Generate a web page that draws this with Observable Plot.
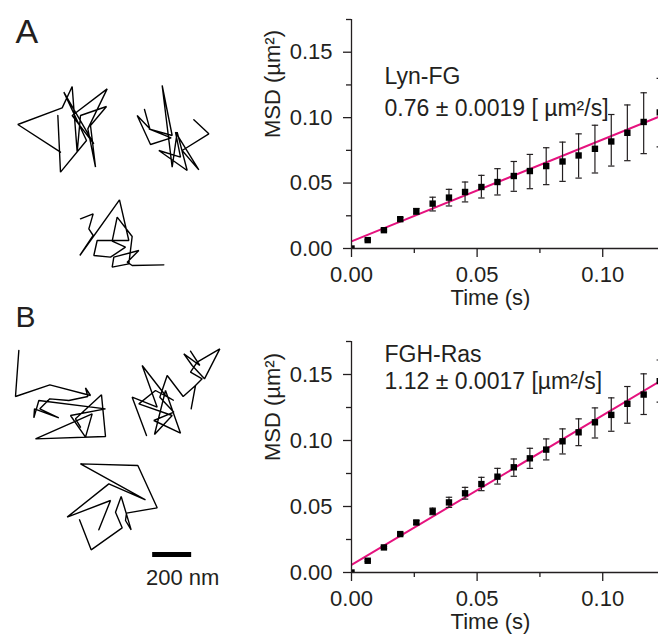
<!DOCTYPE html>
<html><head><meta charset="utf-8">
<script src="https://cdn.jsdelivr.net/npm/d3@7"></script>
<script src="https://cdn.jsdelivr.net/npm/@observablehq/plot@0.6"></script>
<style>
body{margin:0;background:#fff;}
#fig{position:relative;width:658px;height:635px;overflow:hidden;background:#fff;}
#fig > svg{position:absolute;display:block;}
</style></head><body><div id="fig"></div>
<script>
// ---------- MSD data ----------
const timeS = [0, 0.00646, 0.0129, 0.0194, 0.0258, 0.0323, 0.0388, 0.0452, 0.0517, 0.0581, 0.0646, 0.0710, 0.0775, 0.0840, 0.0904, 0.0969, 0.1034, 0.1098, 0.1163, 0.1227];
const msdLyn   = [0, 0.0064, 0.014, 0.0224, 0.0284, 0.0343, 0.0389, 0.0432, 0.047, 0.0508, 0.0554, 0.0592, 0.063, 0.0665, 0.0711, 0.0762, 0.0818, 0.0884, 0.0967, 0.104];
const msdLynLo = [0, 0.0058, 0.0132, 0.0212, 0.0262, 0.0287, 0.0325, 0.0356, 0.0386, 0.0409, 0.0437, 0.0457, 0.0488, 0.0513, 0.0538, 0.0577, 0.063, 0.0671, 0.0725, 0.0776];
const msdLynHi = [0, 0.007, 0.0148, 0.0236, 0.0306, 0.0392, 0.0452, 0.0508, 0.0559, 0.061, 0.0665, 0.0719, 0.077, 0.0813, 0.0876, 0.0942, 0.1024, 0.1097, 0.119, 0.130];
const msdRas   = [0, 0.0089, 0.019, 0.0291, 0.0379, 0.0463, 0.0531, 0.06, 0.067, 0.0726, 0.0797, 0.0865, 0.0931, 0.0994, 0.1062, 0.1138, 0.1194, 0.1278, 0.1348, 0.145];
const msdRasLo = [0, 0.0082, 0.0182, 0.0281, 0.0365, 0.0438, 0.0493, 0.0556, 0.062, 0.067, 0.0729, 0.0789, 0.0853, 0.0898, 0.0961, 0.1019, 0.107, 0.1131, 0.1197, 0.129];
const msdRasHi = [0, 0.0096, 0.0198, 0.0301, 0.0393, 0.0488, 0.057, 0.0645, 0.0721, 0.0789, 0.086, 0.0941, 0.1012, 0.1088, 0.1164, 0.1247, 0.1323, 0.1409, 0.1505, 0.161];
const fitTime = [0, 0.1222];
const fitLyn = [0.0055, 0.1005];
const fitRas = [0.0057, 0.1442];
const nameLyn = "Lyn-FG", coefLyn = "0.76 ± 0.0019 [ µm²/s]";
const nameRas = "FGH-Ras", coefRas = "1.12 ± 0.0017 [µm²/s]";
const xMajor = [0, 0.05, 0.10], xMinor = [0.025, 0.075];
const yMajor = [0, 0.05, 0.10, 0.15], yMinor = [0.025, 0.075, 0.125, 0.175];
const xLabel = "Time (s)", yLabel = "MSD (µm²)";

// ---------- trajectories (digitized units; 117 units = 200 nm) ----------
const trackA1 = [[172,345],[180,515],[258,420],[190,275],[280,430],[215,345],[320,265],[262,385],[285,500],[270,375],[318,318],[240,345],[230,455],[215,258],[185,322],[52,372],[180,455]];
const trackA2 = [[432,327],[448,385],[410,345],[450,432],[512,412],[445,385],[515,405],[485,255],[515,500],[530,395],[560,510],[475,450],[540,470],[525,395],[595,508],[545,450],[625,400],[580,358]];
const trackA3 = [[240,655],[278,640],[265,685],[278,705],[238,765],[357,598],[385,720],[290,720],[280,765],[330,770],[375,740],[335,722],[350,650],[395,708],[385,790],[335,800],[340,770],[415,750],[380,785],[395,795],[490,793]];
const trackB1 = [[55,180],[45,318],[148,283],[270,315],[255,292],[262,318],[205,330],[148,325],[118,355],[175,382],[102,355],[100,382],[115,330],[315,355],[210,375],[255,440],[275,370],[105,445],[315,438],[303,313],[225,385],[240,410]];
const trackB2 = [[572,355],[585,285],[548,318],[500,255],[478,320],[520,365],[460,390],[540,428],[495,300],[462,432],[515,375],[415,340],[465,300],[520,330],[495,315],[425,225],[470,350],[395,320],[438,435]];
const trackB2b = [[585,285],[605,265],[570,245],[590,215],[658,175],[612,265],[575,225],[550,190],[598,225],[570,182]];
const trackB3 = [[295,718],[330,630],[200,680],[325,580],[435,628],[240,520],[412,525],[470,652],[378,668],[375,690],[392,718],[362,618],[345,665],[365,712],[272,778],[237,688]];
const scaleBar = {x1: 455, x2: 572, y: 792, label: "200 nm"};

// ---------- drawing ----------
const FONT = "'Liberation Sans', Arial, Helvetica, sans-serif";
const INK = "#231f20";
const FIT = "#e5127e";
const cap = {draw(ctx, size) { const r = Math.sqrt(size / Math.PI); ctx.moveTo(-r, 0); ctx.lineTo(r, 0); }};
const fig = document.getElementById("fig");

function place(svg, left, top) { svg.style.left = left + "px"; svg.style.top = top + "px"; fig.appendChild(svg); }

function trackPlot(o) {
  const rows = [];
  o.tracks.forEach((tr, k) => tr.forEach(([x, y]) => rows.push({x, y, track: k})));
  return Plot.plot({
    width: 240, height: o.height, margin: 0,
    style: {fontFamily: FONT, color: INK, background: "transparent", overflow: "hidden"},
    x: {domain: [0, 720], range: [0, 240], axis: null},
    y: {domain: [0, o.height * 3], range: [0, o.height], axis: null},
    marks: [
      Plot.line(rows, {x: "x", y: "y", z: "track", stroke: "black", strokeWidth: 1.4, strokeLinejoin: "miter", curve: "linear"}),
      Plot.text([o.label], {frameAnchor: "top-left", textAnchor: "start", lineAnchor: "top", dx: 15, dy: o.labelDy, fontSize: o.labelSize, fill: INK}),
      ...(o.extra || [])
    ]
  });
}

function msdPlot(o) {
  const rows = timeS.map((t, i) => ({t, m: o.msd[i], lo: o.lo[i], hi: o.hi[i]}));
  const fitRows = fitTime.map((t, i) => ({t, m: o.fit[i]}));
  return Plot.plot({
    width: 418, height: o.height, marginLeft: 111, marginRight: 0, marginTop: o.marginTop, marginBottom: o.marginBottom,
    style: {fontFamily: FONT, fontSize: "22px", color: INK, background: "transparent", overflow: "hidden"},
    x: {domain: [0, 0.1222]},
    y: {domain: [0, 0.175]},
    marks: [
      Plot.line(fitRows, {x: "t", y: "m", stroke: FIT, strokeWidth: 2, clip: true}),
      Plot.ruleX(rows, {x: "t", y1: "lo", y2: "hi", stroke: INK, strokeWidth: 1.2, clip: true}),
      Plot.dot(rows, {x: "t", y: "lo", symbol: cap, r: 3.2, stroke: INK, fill: "none", strokeWidth: 1.2, clip: true}),
      Plot.dot(rows, {x: "t", y: "hi", symbol: cap, r: 3.2, stroke: INK, fill: "none", strokeWidth: 1.2, clip: true}),
      Plot.dot(rows, {x: "t", y: "m", symbol: "square", r: 3.6, fill: "black", stroke: "none", clip: true}),
      Plot.ruleX([0], {stroke: INK, strokeWidth: 1.3}),
      Plot.ruleY([0], {stroke: INK, strokeWidth: 1.3}),
      Plot.axisY({ticks: yMajor, tickSize: 8, tickPadding: 11, tickFormat: d3.format(".2f"), label: null, strokeWidth: 1.3, fontSize: 22}),
      Plot.axisY({ticks: yMinor, tickSize: 5, tickFormat: () => "", label: null, strokeWidth: 1.3}),
      Plot.axisX({ticks: xMajor, tickSize: 9, tickPadding: 9, tickFormat: d3.format(".2f"), label: null, strokeWidth: 1.3, fontSize: 22}),
      Plot.axisX({ticks: xMinor, tickSize: 5, tickFormat: () => "", label: null, strokeWidth: 1.3}),
      Plot.text([xLabel], {frameAnchor: "bottom", lineAnchor: "top", dx: -14.5, dy: 41, fontSize: 22, fill: INK}),
      Plot.text([yLabel], {frameAnchor: "left", rotate: -90, lineAnchor: "middle", dx: -79, dy: 4, fontSize: 22, fill: INK}),
      Plot.text([o.name], {frameAnchor: "top-left", textAnchor: "start", lineAnchor: "top", dx: 33, dy: o.dy1, fontSize: 23, fill: INK}),
      Plot.text([o.coef], {frameAnchor: "top-left", textAnchor: "start", lineAnchor: "top", dx: 33, dy: o.dy2, fontSize: 23, fill: INK})
    ]
  });
}

place(trackPlot({height: 290, tracks: [trackA1, trackA2, trackA3], label: "A", labelDy: 18, labelSize: 34}), 0, 0);
place(trackPlot({height: 345, tracks: [trackB1, trackB2, trackB2b, trackB3], label: "B", labelDy: 15, labelSize: 30,
  extra: [
    Plot.link([scaleBar], {x1: "x1", x2: "x2", y1: "y", y2: "y", stroke: "black", strokeWidth: 5}),
    Plot.text([scaleBar], {x: d => (d.x1 + d.x2) / 2, y: "y", text: "label", dx: 11, dy: 15, lineAnchor: "top", fontSize: 22, fill: INK})
  ]}), 0, 290);
place(msdPlot({msd: msdLyn, lo: msdLynLo, hi: msdLynHi, fit: fitLyn, name: nameLyn, coef: coefLyn, height: 310, marginTop: 19, marginBottom: 62, dy1: 48, dy2: 80}), 240, 0);
place(msdPlot({msd: msdRas, lo: msdRasLo, hi: msdRasHi, fit: fitRas, name: nameRas, coef: coefRas, height: 325, marginTop: 31, marginBottom: 63, dy1: 4, dy2: 31}), 240, 310);
</script></body></html>
